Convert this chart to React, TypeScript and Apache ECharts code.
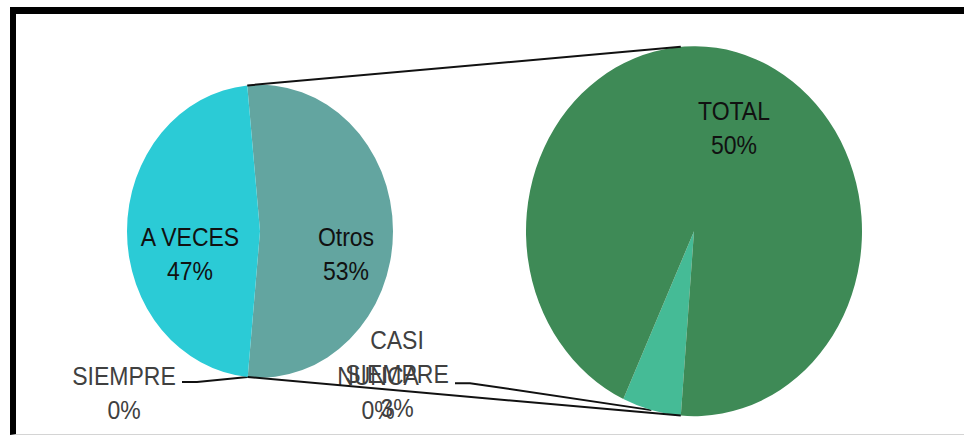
import React, { useEffect, useRef } from "react";
import * as echarts from "echarts";

// ---- data ----
const categories = ["SIEMPRE", "A VECES", "CASI SIEMPRE", "NUNCA", "TOTAL"];
const percents = [0, 47, 3, 0, 50];
const otherLabel = "Otros";
const firstPlotOrder = [otherLabel, "SIEMPRE", "A VECES"];
const secondPlotOrder = ["CASI SIEMPRE", "TOTAL", "NUNCA"];
const insideLabels = ["A VECES", otherLabel, "TOTAL"];
const leaderLabels = ["SIEMPRE", "CASI SIEMPRE"];

// ---- styling / layout ----
const FONT = '"Liberation Sans", Arial, sans-serif';
const sliceColors: Record<string, string> = {
  "A VECES": "#2BCBD6",
  Otros: "#63A5A0",
  SIEMPRE: "#3C7FC0",
  TOTAL: "#3E8A56",
  "CASI SIEMPRE": "#45BB96",
  NUNCA: "#2F6E8E",
};
const W = 964;
const H = 396;
const SCALE_Y = 436 / 396;
const LEFT = { cx: 260, cy: 210, r: 133, start: 95.5 };
const RIGHT = { cx: 694, cy: 210, r: 168, start: 265.5 };
const labelAnchors: Record<string, [number, number]> = {
  "A VECES": [190, 231],
  Otros: [346, 231],
  TOTAL: [734, 116],
  SIEMPRE: [124, 357],
  "CASI SIEMPRE": [397, 340],
  NUNCA: [378, 357],
};
const leaderEnds: Record<string, [number, number][]> = {
  SIEMPRE: [[197, 347], [182, 347]],
  "CASI SIEMPRE": [[470, 348], [455, 348]],
};

const valueOf = (n: string) => percents[categories.indexOf(n)];
const secondSum = secondPlotOrder.reduce((s, n) => s + valueOf(n), 0);
const firstData = firstPlotOrder.map((n) => ({ name: n, value: n === otherLabel ? secondSum : valueOf(n) }));
const secondData = secondPlotOrder.map((n) => ({ name: n, value: valueOf(n) }));
const firstSum = firstData.reduce((s, d) => s + d.value, 0);

const pt = (g: { cx: number; cy: number; r: number }, deg: number): [number, number] => {
  const a = (deg * Math.PI) / 180;
  return [g.cx + g.r * Math.cos(a), g.cy - g.r * Math.sin(a)];
};

// angle (echarts math degrees) at the middle / start of a slice
function sliceAngles(data: { name: string; value: number }[], sum: number, start: number) {
  const out: Record<string, { a0: number; a1: number }> = {};
  let a = start;
  data.forEach((d) => {
    const span = (d.value / sum) * 360;
    out[d.name] = { a0: a, a1: a - span };
    a -= span;
  });
  return out;
}
const firstAngles = sliceAngles(firstData, firstSum, LEFT.start);
const secondAngles = sliceAngles(secondData, secondSum, RIGHT.start);

function labelFor(p: any) {
  const name: string = p.name;
  const text = insideLabels.includes(name) ? name : name.split(" ").join("\n");
  return `${text}\n${p.value}%`;
}

function buildSeriesData(data: { name: string; value: number }[]) {
  return data.map((d) => {
    const inside = insideLabels.includes(d.name);
    return {
      name: d.name,
      value: d.value,
      itemStyle: { color: sliceColors[d.name] },
      label: {
        position: inside ? "inside" : "outside",
        color: inside ? "#111111" : "#404040",
      },
      labelLine: { show: leaderLabels.includes(d.name) },
    };
  });
}

function layoutFor(params: any, seriesIdx: number) {
  const data = seriesIdx === 0 ? firstData : secondData;
  const name = data[params.dataIndex].name;
  const anchor = labelAnchors[name];
  const res: any = { x: anchor[0], y: anchor[1], align: "center", verticalAlign: "middle" };
  if (leaderLabels.includes(name)) {
    let start: [number, number];
    if (seriesIdx === 0) {
      const a = firstAngles[name];
      start = pt(LEFT, (a.a0 + a.a1) / 2);
    } else {
      const a = secondAngles[name];
      start = pt(RIGHT, (a.a0 + a.a1) / 2);
    }
    res.labelLinePoints = [start, ...leaderEnds[name]];
  }
  return res;
}

const labelStyle = {
  show: true,
  formatter: labelFor,
  fontFamily: FONT,
  fontSize: 23,
  lineHeight: 31,
};

export default function App() {
  const ref = useRef<HTMLDivElement>(null);
  useEffect(() => {
    document.body.style.margin = "0";
    const chart = echarts.init(ref.current!, undefined, { renderer: "svg" });

    const otros = firstAngles[otherLabel];
    const lt = pt(LEFT, otros.a0);
    const lb = pt(LEFT, otros.a1);
    const rb = pt(RIGHT, RIGHT.start);
    const rt = pt(RIGHT, -RIGHT.start);

    chart.setOption({
      animation: false,
      backgroundColor: "transparent",
      series: [
        {
          type: "pie",
          center: [LEFT.cx, LEFT.cy],
          radius: LEFT.r,
          startAngle: LEFT.start,
          clockwise: true,
          avoidLabelOverlap: false,
          silent: true,
          data: buildSeriesData(firstData),
          label: labelStyle,
          labelLine: { show: false, lineStyle: { color: "#111", width: 1.8 }, smooth: false },
          labelLayout: (p: any) => layoutFor(p, 0),
        },
        {
          type: "pie",
          center: [RIGHT.cx, RIGHT.cy],
          radius: RIGHT.r,
          startAngle: RIGHT.start,
          clockwise: true,
          avoidLabelOverlap: false,
          silent: true,
          data: buildSeriesData(secondData),
          label: labelStyle,
          labelLine: { show: false, lineStyle: { color: "#111", width: 1.8 }, smooth: false },
          labelLayout: (p: any) => layoutFor(p, 1),
        },
      ],
      graphic: [
        {
          type: "line",
          z: 100,
          shape: { x1: lt[0], y1: lt[1], x2: rt[0], y2: rt[1] },
          style: { stroke: "#111", lineWidth: 1.8 },
        },
        {
          type: "line",
          z: 100,
          shape: { x1: lb[0], y1: lb[1], x2: rb[0], y2: rb[1] },
          style: { stroke: "#111", lineWidth: 1.8 },
        },
      ],
    });
    return () => chart.dispose();
  }, []);

  return (
    <div style={{ position: "relative", width: W, height: 436, overflow: "hidden", background: "#fff" }}>
      <div
        style={{
          position: "absolute",
          left: 10,
          top: 7,
          width: 1000,
          height: 428,
          boxSizing: "border-box",
          borderLeft: "6px solid #000",
          borderTop: "7px solid #000",
          borderBottom: "1px solid #d4d4d4",
        }}
      />
      <div
        ref={ref}
        style={{
          position: "absolute",
          left: 0,
          top: 0,
          width: W,
          height: H,
          transform: `scaleY(${SCALE_Y})`,
          transformOrigin: "0 0",
        }}
      />
    </div>
  );
}
